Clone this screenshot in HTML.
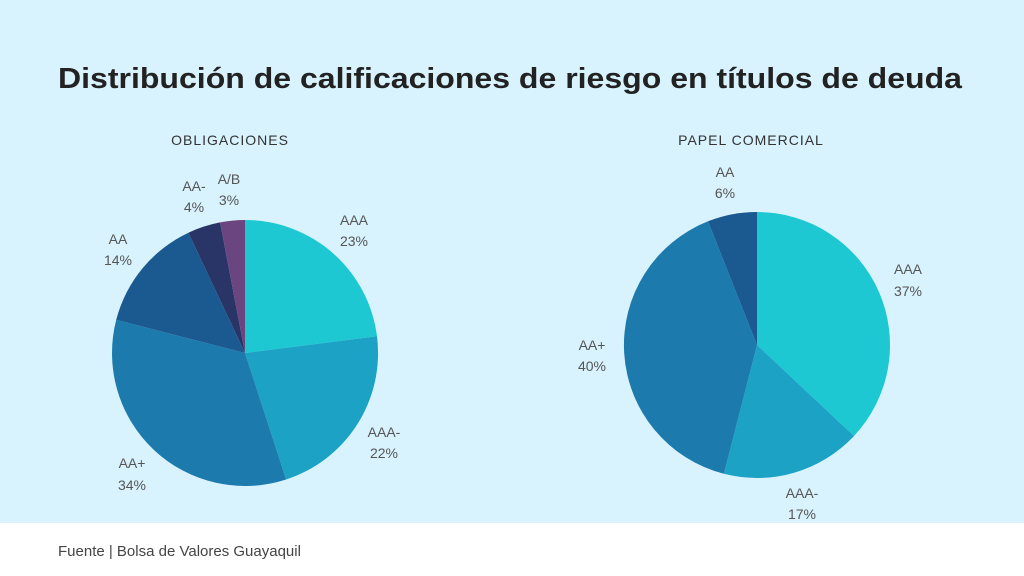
<!DOCTYPE html>
<html><head><meta charset="utf-8"><style>
html,body{margin:0;padding:0;width:1024px;height:576px;overflow:hidden;background:#fff}
svg{display:block}
text{font-family:"Liberation Sans",sans-serif}
</style></head><body>
<svg width="1024" height="576" viewBox="0 0 1024 576">
<rect x="0" y="0" width="1024" height="523" fill="#d8f3fd"/>
<rect x="0" y="523" width="1024" height="53" fill="#ffffff"/>
<text x="510" y="88" text-anchor="middle" font-size="29" font-weight="bold" fill="#222" textLength="904" lengthAdjust="spacingAndGlyphs">Distribución de calificaciones de riesgo en títulos de deuda</text>
<text x="230" y="145" text-anchor="middle" font-size="14" fill="#333" letter-spacing="1">OBLIGACIONES</text>
<text x="751" y="145" text-anchor="middle" font-size="14" fill="#333" letter-spacing="1">PAPEL COMERCIAL</text>
<g>
<path d="M245,353 L245,220 A133,133 0 0 1 377,336.3 Z" fill="#1dc8d3"/>
<path d="M245,353 L377,336.3 A133,133 0 0 1 286.1,479.5 Z" fill="#1ba2c5"/>
<path d="M245,353 L286.1,479.5 A133,133 0 0 1 116.2,319.9 Z" fill="#1c7aad"/>
<path d="M245,353 L116.2,319.9 A133,133 0 0 1 188.4,232.7 Z" fill="#1b5a90"/>
<path d="M245,353 L188.4,232.7 A133,133 0 0 1 220.1,222.4 Z" fill="#283566"/>
<path d="M245,353 L220.1,222.4 A133,133 0 0 1 245,220 Z" fill="#6a4580"/>
</g>
<g>
<path d="M757,345 L757,212 A133,133 0 0 1 854,436 Z" fill="#1dc8d3"/>
<path d="M757,345 L854,436 A133,133 0 0 1 723.9,473.8 Z" fill="#1ba2c5"/>
<path d="M757,345 L723.9,473.8 A133,133 0 0 1 708,221.3 Z" fill="#1c7aad"/>
<path d="M757,345 L708,221.3 A133,133 0 0 1 757,212 Z" fill="#1b5a90"/>
</g>
<g font-size="14" fill="#555" text-anchor="middle">
<text x="354" y="225">AAA</text><text x="354" y="246">23%</text>
<text x="384" y="437">AAA-</text><text x="384" y="458">22%</text>
<text x="132" y="468">AA+</text><text x="132" y="490">34%</text>
<text x="118" y="244">AA</text><text x="118" y="265">14%</text>
<text x="194" y="191">AA-</text><text x="194" y="212">4%</text>
<text x="229" y="184">A/B</text><text x="229" y="205">3%</text>
<text x="908" y="274">AAA</text><text x="908" y="296">37%</text>
<text x="802" y="498">AAA-</text><text x="802" y="519">17%</text>
<text x="592" y="350">AA+</text><text x="592" y="371">40%</text>
<text x="725" y="177">AA</text><text x="725" y="198">6%</text>
</g>
<text x="58" y="556" font-size="15" fill="#444">Fuente | Bolsa de Valores Guayaquil</text>
</svg>
</body></html>
